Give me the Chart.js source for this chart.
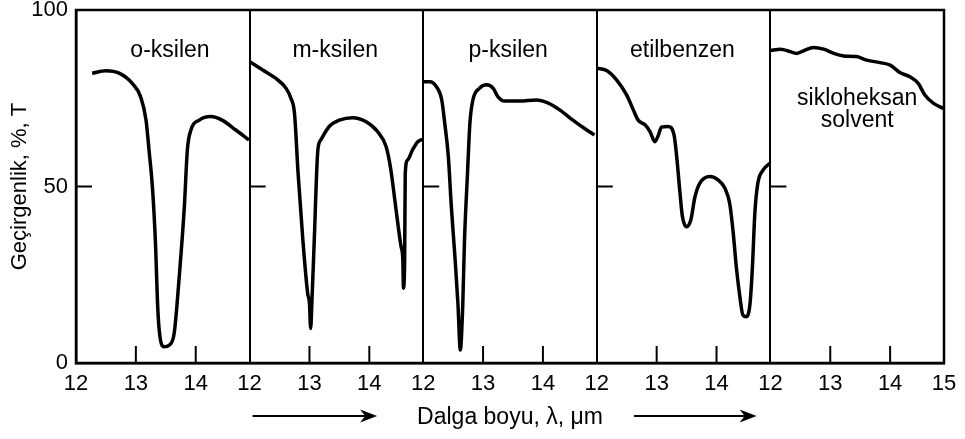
<!DOCTYPE html>
<html>
<head>
<meta charset="utf-8">
<script src="https://cdn.jsdelivr.net/npm/chart.js@4"></script>
<style>
  html, body { margin: 0; padding: 0; background: #fff; }
  #wrap { width: 965px; height: 439px; }
</style>
</head>
<body>
<div id="wrap"><canvas id="irChart" width="965" height="439"></canvas></div>
<script>
// IR spectra, 12-15 um, one panel per compound
const panelNames = ['o-ksilen', 'm-ksilen', 'p-ksilen', 'etilbenzen', 'sikloheksan solvent'];

const oWave  = [12.27, 12.5, 12.72, 12.94, 13.08, 13.17, 13.22, 13.28, 13.33, 13.36, 13.39, 13.47, 13.56, 13.64, 13.72, 13.81, 13.86, 13.92, 14.06, 14.25, 14.44, 14.67, 14.89];
const oTrans = [82.1, 82.8, 82.1, 79.2, 75.4, 68.8, 60.3, 49, 33, 17.8, 9.3, 4.6, 5.1, 8.4, 23.5, 44.3, 60.3, 66, 68.8, 69.8, 68.8, 66, 63.2];

const mWave  = [12.0, 12.22, 12.44, 12.61, 12.69, 12.75, 12.81, 12.89, 12.97, 13.0, 13.02, 13.04, 13.08, 13.14, 13.19, 13.33, 13.5, 13.72, 13.94, 14.14, 14.28, 14.36, 14.44, 14.53, 14.56, 14.57, 14.59, 14.6, 14.64, 14.72, 14.81, 14.89];
const mTrans = [85.4, 83, 80.6, 77.8, 75, 70.7, 53.7, 34.8, 19.7, 16.9, 9.8, 16.9, 34.8, 60.3, 63.2, 67, 68.8, 69.5, 68.4, 65.5, 61.3, 54.7, 44.3, 33, 29.2, 21.2, 29.2, 53.7, 57.5, 60.3, 62.7, 63.4];

const pWave  = [12.0, 12.11, 12.22, 12.31, 12.36, 12.42, 12.47, 12.53, 12.58, 12.62, 12.66, 12.69, 12.74, 12.78, 12.83, 12.94, 13.06, 13.17, 13.25, 13.36, 13.61, 13.89, 14.08, 14.28, 14.5, 14.69, 14.86];
const pTrans = [79.7, 79.7, 78.3, 74.5, 67.9, 58.5, 44.3, 30.1, 16.9, 3.7, 16, 34.8, 53.7, 67.9, 74.5, 77.8, 78.8, 77.8, 75.4, 74.2, 74.2, 74.5, 73.7, 71.7, 68.8, 66.5, 64.6];

const eWave  = [12.0, 12.17, 12.33, 12.5, 12.61, 12.69, 12.81, 12.89, 12.97, 13.03, 13.08, 13.19, 13.29, 13.34, 13.39, 13.43, 13.5, 13.57, 13.64, 13.72, 13.89, 14.03, 14.14, 14.22, 14.28, 14.33, 14.39, 14.44, 14.5, 14.56, 14.6, 14.64, 14.69, 14.78, 14.89];
const eTrans = [83.5, 82.8, 80.2, 75.9, 71.7, 68.8, 67.4, 65.5, 62.7, 64.6, 66.8, 67, 64.6, 57.5, 48.1, 41.5, 38.6, 40.5, 47.1, 50.9, 52.8, 51.8, 49.5, 45.2, 36.7, 27.3, 18.8, 13.6, 13.1, 16.9, 27.3, 42.4, 50.9, 54.7, 56.6];

const sWave  = [12.0, 12.17, 12.33, 12.44, 12.56, 12.72, 12.89, 13.06, 13.22, 13.44, 13.61, 13.83, 14.0, 14.17, 14.33, 14.47, 14.58, 14.72, 14.89];
const sTrans = [88.5, 88.9, 88.2, 87.7, 88.5, 89.4, 88.9, 87.7, 87, 86.8, 85.8, 85.1, 84.4, 82.2, 81.1, 79.2, 75.9, 73.6, 72.1];

const yTicks = [0, 50, 100];

const waves = [oWave, mWave, pWave, eWave, sWave];
const trans = [oTrans, mTrans, pTrans, eTrans, sTrans];

// each panel covers 12 .. 14.9 um on one shared x axis
const SPAN = 2.9;
const NP = panelNames.length;
const XMAX = SPAN * NP;

// where the compound names sit (um, %T)
const nameAnchor = [[13.57, 88.5], [13.43, 88.5], [13.42, 88.5], [13.43, 88.5], [13.45, 75]];

const FONT = '"Liberation Sans", Arial, sans-serif';

const datasets = waves.map((w, k) => ({
  data: w.map((l, i) => ({ x: k * SPAN + (l - 12), y: trans[k][i] })),
  borderColor: '#000',
  borderWidth: 3.5,
  pointRadius: 0,
  cubicInterpolationMode: 'monotone',
  fill: false
}));

function isDivider(v) {
  const r = v / SPAN;
  return v > 0.01 && v < XMAX - 0.01 && Math.abs(r - Math.round(r)) < 1e-6;
}

function noPad(scale) {
  scale.paddingTop = 0;
  scale.paddingBottom = 0;
  scale.paddingLeft = 0;
  scale.paddingRight = 0;
}

const decor = {
  id: 'decor',
  afterDraw(chart) {
    const ctx = chart.ctx;
    const a = chart.chartArea;
    const xs = chart.scales.x, ys = chart.scales.y;
    ctx.save();
    ctx.strokeStyle = '#000';
    ctx.fillStyle = '#000';

    // frame
    ctx.lineWidth = 2.5;
    ctx.strokeRect(a.left, a.top, a.right - a.left, a.bottom - a.top);

    // inside tick marks: 13 and 14 on bottom, 50 on left of each panel
    ctx.lineWidth = 2;
    const y50 = ys.getPixelForValue(50);
    for (let k = 0; k < NP; k++) {
      [1, 2].forEach(j => {
        const px = xs.getPixelForValue(k * SPAN + j);
        ctx.beginPath();
        ctx.moveTo(px, a.bottom);
        ctx.lineTo(px, a.bottom - 17);
        ctx.stroke();
      });
      const x0 = xs.getPixelForValue(k * SPAN);
      ctx.beginPath();
      ctx.moveTo(x0, y50);
      ctx.lineTo(x0 + 16, y50);
      ctx.stroke();
    }

    // compound names
    ctx.font = '23px ' + FONT;
    ctx.textAlign = 'center';
    ctx.textBaseline = 'middle';
    panelNames.forEach((name, k) => {
      const px = xs.getPixelForValue(k * SPAN + nameAnchor[k][0] - 12);
      const py = ys.getPixelForValue(nameAnchor[k][1]);
      const parts = name.split(' ');
      parts.forEach((p, i) => ctx.fillText(p, px, py + i * 22));
    });

    // arrows under the x axis
    const ay = a.bottom + 53;
    [[SPAN + 0.05, 5.03], [9.32, 11.37]].forEach(([v0, v1]) => {
      const x0 = xs.getPixelForValue(v0), x1 = xs.getPixelForValue(v1);
      ctx.lineWidth = 2;
      ctx.beginPath();
      ctx.moveTo(x0, ay);
      ctx.lineTo(x1 - 10, ay);
      ctx.stroke();
      ctx.beginPath();
      ctx.moveTo(x1, ay);
      ctx.lineTo(x1 - 17, ay - 6.5);
      ctx.lineTo(x1 - 12, ay);
      ctx.lineTo(x1 - 17, ay + 6.5);
      ctx.closePath();
      ctx.fill();
    });
    ctx.restore();
  }
};

new Chart(document.getElementById('irChart'), {
  type: 'line',
  data: { datasets: datasets },
  options: {
    responsive: false,
    animation: false,
    layout: { padding: { top: 10, right: 21, left: 0, bottom: 0 } },
    plugins: { legend: { display: false }, tooltip: { enabled: false } },
    scales: {
      x: {
        type: 'linear',
        min: 0,
        max: XMAX,
        afterBuildTicks: scale => {
          const t = [];
          for (let k = 0; k < NP; k++) {
            for (let j = 0; j < 3; j++) t.push({ value: Math.round((k * SPAN + j) * 100) / 100 });
          }
          t.push({ value: XMAX });
          scale.ticks = t;
        },
        afterFit: scale => { scale.height = 76; noPad(scale); },
        ticks: {
          autoSkip: false,
          maxRotation: 0,
          padding: 8,
          color: '#000',
          font: { family: FONT, size: 22 },
          callback: v => {
            if (v >= XMAX - 0.01) return '15';
            const k = Math.floor((v + 0.01) / SPAN);
            return String(12 + Math.round(v - k * SPAN));
          }
        },
        grid: {
          drawTicks: false,
          lineWidth: 2,
          color: c => (c.tick && isDivider(c.tick.value)) ? '#000' : 'rgba(0,0,0,0)'
        },
        border: { color: '#000', width: 2.5 },
        title: {
          display: true,
          text: 'Dalga boyu, λ, μm',
          color: '#000',
          font: { family: FONT, size: 23 },
          padding: { top: 0, bottom: 8 }
        }
      },
      y: {
        min: 0,
        max: 100,
        afterBuildTicks: scale => { scale.ticks = yTicks.map(v => ({ value: v })); },
        afterFit: scale => { scale.width = 76; noPad(scale); },
        ticks: {
          padding: 8,
          color: '#000',
          font: { family: FONT, size: 22, lineHeight: 1 }
        },
        grid: { display: false, drawTicks: false },
        border: { color: '#000', width: 2.5 },
        title: {
          display: true,
          text: 'Geçirgenlik, %, T',
          color: '#000',
          font: { family: FONT, size: 22 },
          padding: { top: 7, bottom: 0 }
        }
      }
    }
  },
  plugins: [decor]
});
</script>
</body>
</html>
